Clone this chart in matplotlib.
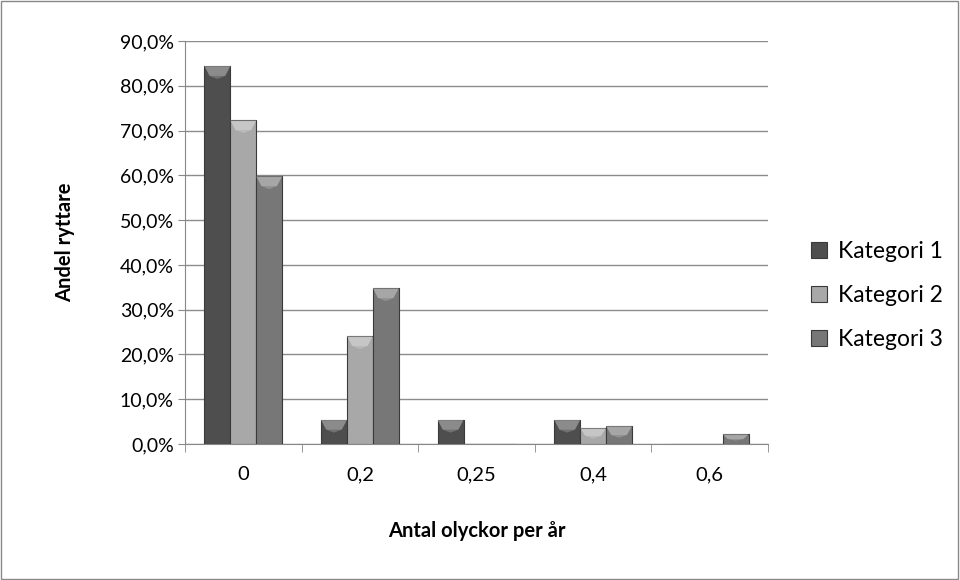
import numpy as np
import matplotlib.pyplot as plt
from matplotlib.patches import Polygon, Rectangle
from matplotlib.ticker import FuncFormatter

plt.rcParams['font.family'] = ['Lato', 'DejaVu Sans']

# data
kategorier = ['0', '0,2', '0,25', '0,4', '0,6']
serier = ['Kategori 1', 'Kategori 2', 'Kategori 3']
kat1 = [84.4, 5.4, 5.4, 5.4, 0.0]
kat2 = [72.3, 24.1, 0.0, 3.6, 0.0]
kat3 = [59.8, 34.8, 0.0, 4.0, 2.2]
farger = ['#4e4e4e', '#a8a8a8', '#777777']

fig = plt.figure(figsize=(9.6, 5.8), dpi=100)
ax = fig.add_axes([185/960, 1-444/580, (768-185)/960, (444-41)/580])

x = np.arange(len(kategorier))
w = 1/4.5
for i, (vals, c) in enumerate(zip([kat1, kat2, kat3], farger)):
    bars = ax.bar(x + (i-1)*w, vals, w, color=c, edgecolor='#3a3a3a', linewidth=0.8,
                  label=serier[i], zorder=3)
    for b in bars:
        h = b.get_height()
        if h <= 0:
            continue
        x0 = b.get_x(); bw = b.get_width()
        d = min(2.2, h/2)
        # bevel on the top edge
        ax.add_patch(Polygon([[x0, h], [x0+bw, h], [x0+bw*0.8, h-d], [x0+bw*0.2, h-d]],
                             closed=True, facecolor='white', alpha=0.35, lw=0, zorder=4))
        ax.add_patch(Polygon([[x0+bw*0.2, h-d], [x0+bw*0.8, h-d], [x0+bw*0.5, h-d*1.3]],
                             closed=True, facecolor='white', alpha=0.2, lw=0, zorder=4))

ax.set_xlim(-0.5, len(kategorier)-0.5)
ax.set_ylim(0, 90)
ax.set_yticks(np.arange(0, 91, 10))
ax.yaxis.set_major_formatter(FuncFormatter(lambda v, p: f'{v:.1f}%'.replace('.', ',')))
ax.set_xticks(x)
ax.set_xticklabels(kategorier)
ax.set_xticks(np.arange(-0.5, len(kategorier)), minor=True)
ax.tick_params(axis='x', which='major', length=0, pad=16, labelsize=14.5)
ax.tick_params(axis='x', which='minor', length=6, color='#888888', direction='out')
ax.tick_params(axis='y', length=5, color='#888888', labelsize=14, pad=3)
ax.grid(axis='y', color='#8c8c8c', linewidth=1, zorder=0)
for s in ['top', 'right']:
    ax.spines[s].set_visible(False)
for s in ['left', 'bottom']:
    ax.spines[s].set_color('#888888')

ax.set_ylabel('Andel ryttare', fontsize=14.5, fontweight='bold', labelpad=32)
ax.set_xlabel('Antal olyckor per år', fontsize=14.5, fontweight='bold', labelpad=27)

fig.legend(loc='center left', bbox_to_anchor=(790/960, 0.49), frameon=False, fontsize=16.5,
           handlelength=0.7, handleheight=0.7, handletextpad=0.5, labelspacing=1.0)

fig.patches.append(Rectangle((0.001, 0.001), 0.997, 0.997, transform=fig.transFigure,
                             fill=False, edgecolor='#888888', linewidth=1))
fig.savefig('out.png', dpi=100)
